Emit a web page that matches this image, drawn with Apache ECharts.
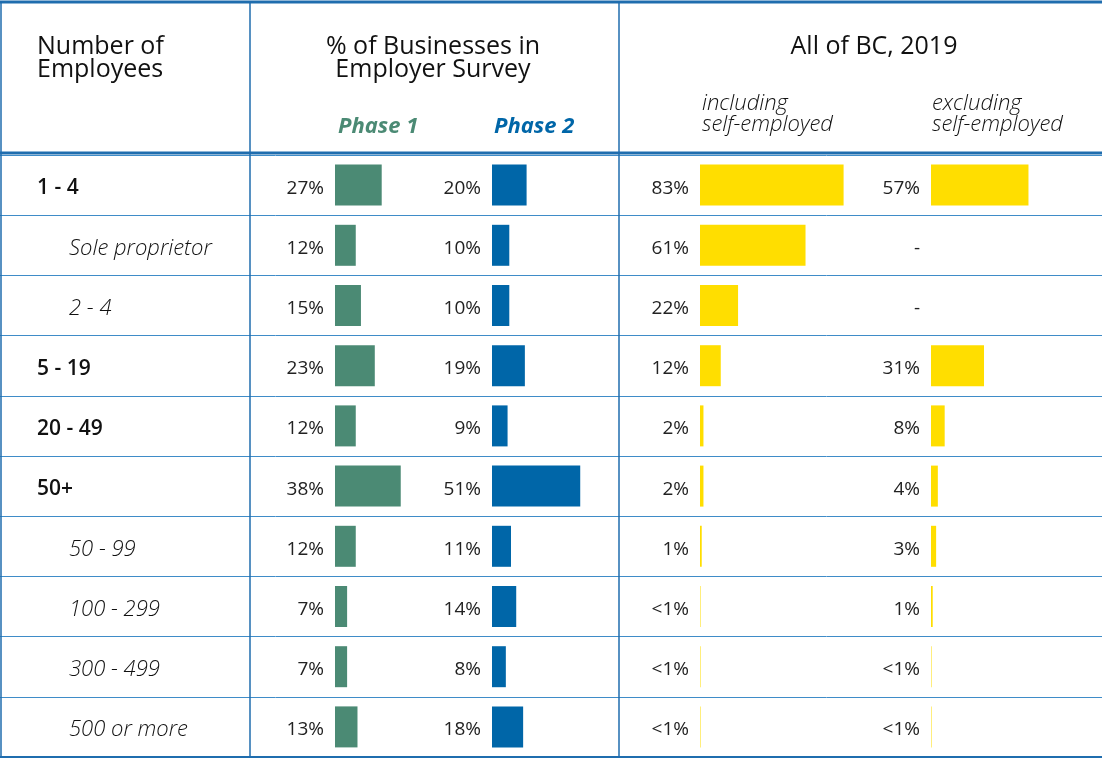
<!DOCTYPE html>
<html>
<head>
<meta charset="utf-8">
<title>Businesses by number of employees</title>
<script src="https://cdn.jsdelivr.net/npm/echarts@6/dist/echarts.min.js"></script>
<style>
html, body { margin: 0; padding: 0; background: #fff; }
#chart { width: 1102px; height: 759px; }
</style>
</head>
<body>
<div id="chart"></div>
<script>
// rows of the table, top to bottom
const sizeGroups = ['1 - 4', 'Sole proprietor', '2 - 4', '5 - 19', '20 - 49', '50+', '50 - 99', '100 - 299', '300 - 499', '500 or more']
const isSubGroup = [false, true, true, false, false, false, true, true, true, true]

// % of businesses
const phase1 = [27, 12, 15, 23, 12, 38, 12, 7, 7, 13]
const phase2 = [20, 10, 10, 19, 9, 51, 11, 14, 8, 18]
// all of BC 2019 (values under 1 are shown as "<1%", null as "-")
const bcIncluding = [83, 61, 22, 12, 2, 2, 1, 0.3, 0.3, 0.3]
const bcExcluding = [57, null, null, 31, 8, 4, 3, 1, 0.3, 0.3]

const FONT = '"Open Sans", "Noto Sans", sans-serif'
const BLUE_LINE = '#1f6dae'
const GREEN = '#4b8a74'
const BLUE = '#0066a8'
const YELLOW = '#ffde00'

const ROWS_TOP = 155
const ROWS_HEIGHT = 602

const barCols = [
  { data: phase1, left: 335, color: GREEN },
  { data: phase2, left: 492, color: BLUE },
  { data: bcIncluding, left: 700, color: YELLOW },
  { data: bcExcluding, left: 931, color: YELLOW }
]

function pctLabel(arr) {
  return (p) => {
    const v = arr[p.dataIndex]
    if (v == null) return '-'
    if (v < 1) return '<1%'
    return v + '%'
  }
}

function buildOption() {
  const grid = [{ left: 0, right: 0, top: ROWS_TOP, height: ROWS_HEIGHT }]
  const xAxis = [{ gridIndex: 0, type: 'value', min: 0, max: 1, show: false }]
  const yAxis = [{
    gridIndex: 0,
    type: 'category',
    data: sizeGroups,
    inverse: true,
    axisLine: { show: false },
    axisTick: { show: false },
    splitLine: { show: true, interval: 0, lineStyle: { color: '#3f8cc8', width: 1 } },
    axisLabel: {
      inside: true,
      interval: 0,
      margin: 37,
      formatter: (v, i) => (isSubGroup[i] ? `{sub|${v}}` : `{main|${v}}`),
      rich: {
        main: { fontFamily: FONT, fontSize: 21, fontWeight: 600, color: '#111', padding: [6, 0, 0, 0] },
        sub: { fontFamily: FONT, fontSize: 22, fontStyle: 'italic', fontWeight: 300, color: '#111', padding: [6, 0, 0, 32] }
      }
    }
  }]
  const series = []

  barCols.forEach((col, k) => {
    const idx = k + 1
    grid.push({ left: col.left, width: 173, top: ROWS_TOP, height: ROWS_HEIGHT })
    xAxis.push({ gridIndex: idx, type: 'value', min: 0, max: 100, show: false })
    yAxis.push({ gridIndex: idx, type: 'category', data: sizeGroups, inverse: true, show: false })
    series.push({
      type: 'bar',
      xAxisIndex: idx,
      yAxisIndex: idx,
      data: col.data.map((v) => (v == null ? 0 : v)),
      barWidth: 41,
      silent: true,
      itemStyle: { color: col.color },
      label: {
        show: true,
        position: 'left',
        distance: 11,
        offset: [0, 3],
        fontFamily: FONT,
        fontSize: 19,
        color: '#222',
        formatter: pctLabel(col.data)
      }
    })
  })

  const line = (x1, y1, x2, y2, w, c) => ({
    type: 'line',
    shape: { x1, y1, x2, y2 },
    style: { stroke: c || BLUE_LINE, lineWidth: w },
    z: 100
  })
  const text = (x, y, t, extra) => ({
    type: 'text',
    x,
    y,
    style: Object.assign({ text: t, fontFamily: FONT, fontSize: 25, fill: '#111', lineHeight: 23 }, extra),
    z: 100
  })

  const graphic = [
    line(0, 2, 1102, 2, 3),
    line(0, 153, 1102, 153, 3),
    line(0, 757, 1102, 757, 2),
    line(1, 2, 1, 758, 1.5),
    line(250, 2, 250, 758, 1.5),
    line(619, 2, 619, 758, 1.5),
    text(37, 35, 'Number of\nEmployees'),
    text(433, 35, '% of Businesses in\nEmployer Survey', { align: 'center' }),
    text(874, 35, 'All of BC, 2019', { align: 'center' }),
    text(338, 115, 'Phase 1', { fontSize: 22, fontWeight: 'bold', fontStyle: 'italic', fill: GREEN }),
    text(494, 115, 'Phase 2', { fontSize: 22, fontWeight: 'bold', fontStyle: 'italic', fill: BLUE }),
    text(702, 93, 'including\nself-employed', { fontSize: 22, fontStyle: 'italic', fontWeight: 300, lineHeight: 21 }),
    text(932, 93, 'excluding\nself-employed', { fontSize: 22, fontStyle: 'italic', fontWeight: 300, lineHeight: 21 })
  ]

  return { animation: false, grid, xAxis, yAxis, series, graphic }
}

const chart = echarts.init(document.getElementById('chart'))
chart.setOption(buildOption())
window.addEventListener('resize', () => chart.resize())
</script>
</body>
</html>
